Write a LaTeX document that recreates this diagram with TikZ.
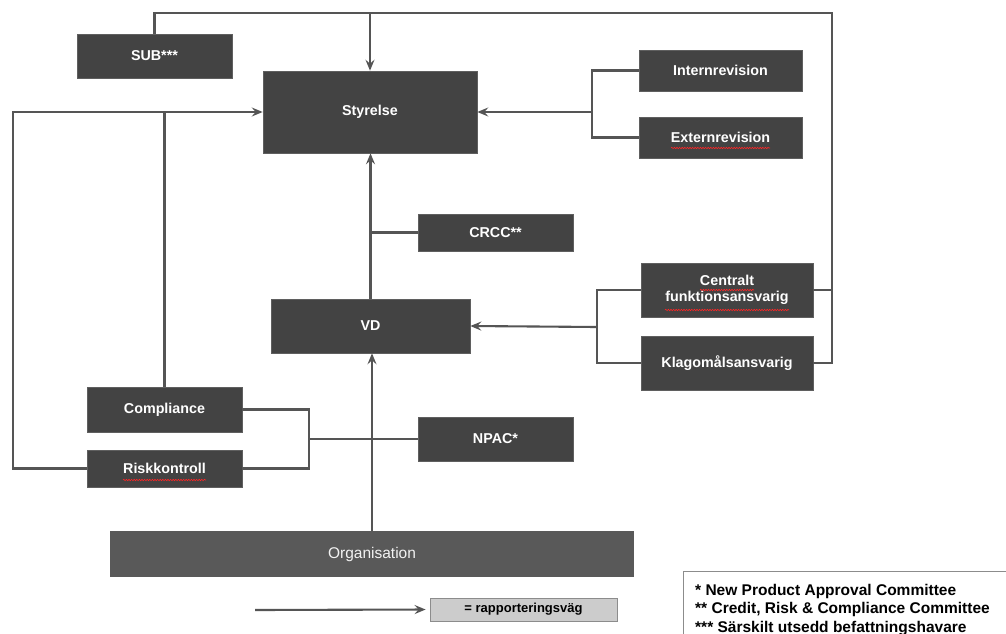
\documentclass[tikz,border=0pt]{standalone}
\usepackage{fontspec}
\setmainfont{Liberation Sans}
\usetikzlibrary{arrows.meta,decorations.pathmorphing,calc}
\definecolor{boxc}{HTML}{434343}
\definecolor{orgc}{HTML}{595959}
\definecolor{linec}{HTML}{555555}
\definecolor{legc}{HTML}{CCCCCC}
\begin{document}
\begin{tikzpicture}[x=1pt,y=-1pt,
  darkbox/.style={fill=boxc,draw=boxc!85!white,line width=0.6pt,text=white,inner sep=0pt,
     font=\bfseries\fontsize{14.3}{16.5}\selectfont,align=center},
  conn/.style={draw=linec,line width=2.1pt},
  arr/.style={conn,-{Stealth[length=11pt,width=9pt,inset=4pt]}},
  squig/.style={draw=red!85,line width=0.6pt,decorate,decoration={snake,amplitude=0.7pt,segment length=2.6pt}}]
\useasboundingbox (0,0) rectangle (1006,634);
\fill[white] (0,0) rectangle (1006,634);

% nodes
\node[darkbox,minimum width=155pt,minimum height=44pt] (sub) at (154.5,56) {SUB***};
\node[darkbox,minimum width=214pt,minimum height=82pt] (sty) at (370,112) {Styrelse};
\node[darkbox,minimum width=163pt,minimum height=41pt] (intern) at (720.5,70.5) {Internrevision};
\node[darkbox,minimum width=163pt,minimum height=41pt] (extern) at (720.5,137.5) {Externrevision};
\node[darkbox,minimum width=155pt,minimum height=37pt] (crcc) at (495.5,232.5) {CRCC**};
\node[darkbox,minimum width=199pt,minimum height=54pt] (vd) at (370.5,326) {VD};
\node[darkbox,minimum width=172pt,minimum height=54pt] (central) at (727,290) {Centralt\\funktionsansvarig};
\node[darkbox,minimum width=172pt,minimum height=54pt] (klag) at (727,363) {Klagomålsansvarig};
\node[darkbox,minimum width=155pt,minimum height=45pt] (comp) at (164.5,409.5) {Compliance};
\node[darkbox,minimum width=155pt,minimum height=37pt] (risk) at (164.5,468.5) {Riskkontroll};
\node[darkbox,minimum width=155pt,minimum height=44pt] (npac) at (495.5,439) {NPAC*};
\node[fill=orgc,text=white!95!black,inner sep=0pt,minimum width=524pt,minimum height=46pt,
      font=\fontsize{15.5}{18}\selectfont] (org) at (372,554) {Organisation};
\node[fill=legc,draw=black!45,line width=0.8pt,inner sep=0pt,minimum width=187pt,minimum height=23pt,
      font=\bfseries\fontsize{13}{15}\selectfont] (leg) at (523.5,609.5) {= rapporteringsväg};

% spell-check squiggles
\draw[squig] (671,148) -- (770,148);
\draw[squig] (700,290) -- (754,290);
\draw[squig] (665,310) -- (789,310);
\draw[squig] (123,480) -- (206,480);

% connector coordinates
\coordinate (tr) at (832,13);
\coordinate (ll) at (13,112);
\coordinate (cj) at (309,439);
\coordinate (rj) at (592,112);
\coordinate (cfj) at (597,327);
\coordinate (legs) at (255,610);

% top loop
\draw[conn] (sub.north) -- (sub.north |- tr) -- (tr) |- (klag.east);
\draw[conn] (central.east) -- (central.east -| tr);
\draw[arr] (sty.north |- tr) -- (sty.north);

% left loop
\draw[arr] (risk.west) -| (ll) -- (sty.west);
\draw[conn] (comp.north) -- (comp.north |- sty.west);

% compliance / riskkontroll to NPAC
\draw[conn] (comp.east) -| (cj);
\draw[conn] (risk.east) -| (cj);
\draw[conn] (cj) -- (npac.west);

% vertical chain
\draw[arr] (org.north) -- (org.north |- vd.south);
\draw[arr] (vd.north) -- (vd.north |- sty.south);
\draw[conn] (crcc.west) -- (crcc.west -| vd.north);

% revisions
\draw[conn] (intern.west) -| (rj);
\draw[conn] (extern.west) -| (rj);
\draw[arr] (rj) -- (sty.east);

% central / klagomal
\draw[conn] (central.west) -| (cfj);
\draw[conn] (klag.west) -| (cfj);
\draw[arr] (cfj) -- (vd.east);

% legend
\draw[arr,shorten >=4pt] (legs) -- (leg.west);
\draw[black!45,line width=0.8pt] (1006,571) -- (683,571) -- (683,634);
\node[anchor=north west,align=left,inner sep=0pt,font=\bfseries\fontsize{15.5}{18.5}\selectfont] (fn) at (695,584)
  {* New Product Approval Committee\\** Credit, Risk \& Compliance Committee\\*** Särskilt utsedd befattningshavare};
\end{tikzpicture}
\end{document}
